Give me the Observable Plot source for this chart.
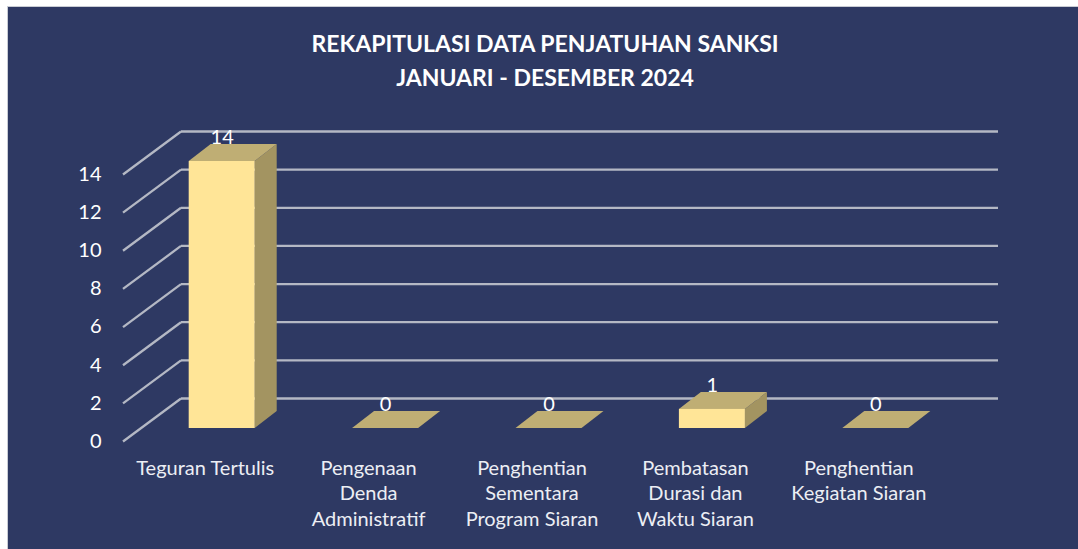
<!DOCTYPE html>
<html>
<head>
<meta charset="utf-8">
<script src="https://cdn.jsdelivr.net/npm/d3@7"></script>
<script src="https://cdn.jsdelivr.net/npm/@observablehq/plot@0.6"></script>
<style>
  html, body { margin: 0; padding: 0; background: #fff; overflow: hidden; }
  #panel {
    position: absolute; left: 7px; top: 6px; width: 1071px; height: 543px;
    background: #2e3963; border-left: 1px solid #c9ccd4; border-top: 1px solid #c9ccd4;
    overflow: hidden; box-sizing: border-box;
  }
  #title {
    position: absolute; left: 0; top: 19px; margin: 0;
    width: 1074px; text-align: center; color: #fff;
    font: bold 23px/34px Lato, sans-serif;
  }
  #chart { position: absolute; left: -8px; top: 107px; }
  #chart svg { display: block; background: transparent; }
</style>
</head>
<body>
<div id="panel">
  <h1 id="title">REKAPITULASI DATA PENJATUHAN SANKSI<br>JANUARI - DESEMBER 2024</h1>
  <div id="chart"></div>
</div>
<script>
const categories = [
  "Teguran Tertulis",
  "Pengenaan Denda Administratif",
  "Penghentian Sementara Program Siaran",
  "Pembatasan Durasi dan Waktu Siaran",
  "Penghentian Kegiatan Siaran"
];
const tickLabels = [
  "Teguran Tertulis",
  "Pengenaan\nDenda\nAdministratif",
  "Penghentian\nSementara\nProgram Siaran",
  "Pembatasan\nDurasi dan\nWaktu Siaran",
  "Penghentian\nKegiatan Siaran"
];
const values = [14, 0, 0, 1, 0];
const yTicks = [0, 2, 4, 6, 8, 10, 12, 14];

const table = categories.map((category, i) => ({category, value: values[i]}));

// Oblique projection of the 3-D look, all in pixels.
const wallDx = 58, wallDy = -43;   // front floor edge to back wall
const barDx = 17, barDy = -13;     // front floor edge to bar front face
const depthX = 22, depthY = 17;    // bar depth
const pxPerUnit = 267 / 14;
const depthValue = depthY / pxPerUnit;

const shearRects = (fn) => (index, scales, values, dimensions, context, next) => {
  const g = next(index, scales, values, dimensions, context);
  d3.select(g).selectAll("rect").each(function () { fn(d3.select(this)); });
  return g;
};
// top face: lean the rectangle back about its lower edge
const topFace = shearRects((r) => {
  const k = depthX / depthY, yb = +r.attr("y") + +r.attr("height");
  r.attr("transform", `matrix(1,0,${-k},1,${k * yb},0)`);
});
// side face: move to the bar's right edge and rise to the back
const sideFace = shearRects((r) => {
  const m = depthY / depthX, xr = +r.attr("x") + +r.attr("width");
  r.attr("x", xr).attr("width", depthX).attr("transform", `matrix(1,${-m},0,1,0,${m * xr})`);
});
// depth lines: from the front floor tick to the back wall
const depthLines = (index, scales, values, dimensions, context, next) => {
  const g = next(index, scales, values, dimensions, context);
  d3.select(g).selectAll("line").each(function () {
    const l = d3.select(this), x1 = +l.attr("x1"), y1 = +l.attr("y1");
    l.attr("x2", x1 + wallDx).attr("y2", y1 + wallDy);
  });
  return g;
};

const lineColor = "#b4b8c4";
const chart = Plot.plot({
  width: 1078,
  height: 435,
  marginLeft: 123,
  marginRight: 138,
  marginTop: 60,
  marginBottom: 108,
  style: {background: "transparent", fontFamily: "Lato, sans-serif"},
  x: {type: "band", domain: categories, paddingInner: 0.596, paddingOuter: 0.298, round: false},
  y: {domain: [0, 14]},
  marks: [
    Plot.ruleY(yTicks, {stroke: lineColor, strokeWidth: 2.3, dx: wallDx, dy: wallDy}),
    Plot.ruleY(yTicks, {stroke: lineColor, strokeWidth: 2.3, render: depthLines}),
    Plot.axisY({ticks: yTicks, tickSize: 0, tickPadding: 22, fill: "#fff", fontSize: 20, label: null}),
    Plot.axisX({
      tickSize: 0, tickPadding: 15, fill: "#eceef4", fontSize: 20, label: null, lineHeight: 1.275,
      tickFormat: (d) => tickLabels[categories.indexOf(d)]
    }),
    Plot.barY(table, {x: "category", y: "value", fill: "#a39461", dx: barDx, dy: barDy, render: sideFace}),
    Plot.barY(table, {x: "category", y1: "value", y2: (d) => d.value + depthValue, fill: "#bfae74", dx: barDx, dy: barDy, render: topFace}),
    Plot.barY(table, {x: "category", y: "value", fill: "#ffe597", dx: barDx, dy: barDy}),
    Plot.text(table, {x: "category", y: "value", text: "value", fill: "#fff", fontSize: 20, dx: barDx, dy: -37})
  ]
});
document.getElementById("chart").append(chart);
</script>
</body>
</html>
